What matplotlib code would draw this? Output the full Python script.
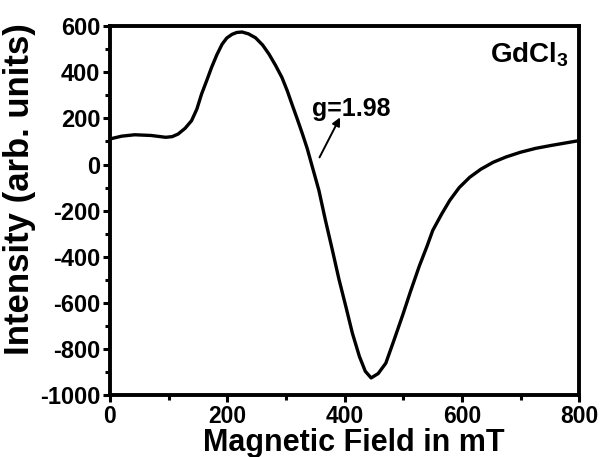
import numpy as np
import matplotlib.pyplot as plt
from matplotlib.ticker import MultipleLocator

plt.rcParams['font.family'] = ['Liberation Sans', 'DejaVu Sans']
plt.rcParams['font.weight'] = 'bold'
plt.rcParams['axes.unicode_minus'] = False
plt.rcParams['mathtext.fontset'] = 'custom'
plt.rcParams['mathtext.bf'] = 'Liberation Sans:bold'
plt.rcParams['mathtext.rm'] = 'Liberation Sans:bold'

# EPR spectrum (field in mT, intensity in arb. units)
field = [0, 20, 42, 70, 95, 106, 116, 128, 139, 148, 156, 165, 173, 182, 191,
         199, 208, 216, 225, 236, 248, 260, 271, 282, 293, 302, 310, 319, 328,
         336, 345, 356, 367, 379, 390, 402, 413, 425, 435, 445, 457, 470, 484,
         499, 512, 527, 540, 550, 565, 579, 595, 613, 632, 653, 675, 699, 725,
         750, 775, 800]
intensity = [111, 123, 129, 126, 118, 121, 132, 157, 190, 240, 305, 365, 420, 475, 521,
             548, 564, 572, 574, 566, 549, 518, 478, 430, 377, 320, 262, 198, 132,
             70, -12, -112, -240, -371, -495, -616, -730, -831, -895, -924, -905, -860, -760,
             -650, -550, -440, -355, -285, -215, -155, -100, -55, -20, 10, 33, 53, 70,
             82, 93, 104]

xticks = [0, 200, 400, 600, 800]
yticks = [600, 400, 200, 0, -200, -400, -600, -800, -1000]

fig = plt.figure(figsize=(6.03, 4.57), dpi=100)
ax = fig.add_axes([0.1824, 0.1346, 0.7786, 0.8085])
ax.plot(field, intensity, color='black', lw=2.4, solid_joinstyle='round')

ax.set_xlim(0, 800)
ax.set_ylim(-1000, 600)
ax.set_xticks(xticks)
ax.set_yticks(yticks)
ax.xaxis.set_minor_locator(MultipleLocator(100))
ax.yaxis.set_minor_locator(MultipleLocator(100))
ax.tick_params(which='major', direction='out', length=5, width=2.2, labelsize=17)
ax.tick_params(axis='x', which='major', pad=2, labelsize=16.5)
ax.tick_params(axis='y', which='major', pad=2)
ax.tick_params(which='minor', direction='out', length=3.5, width=2.2)
for s in ax.spines.values():
    s.set_linewidth(2.8)

ax.set_xlabel('Magnetic Field in mT', fontsize=22, fontweight='bold', va='top')
ax.xaxis.set_label_coords(0.52, -0.087)
ax.set_ylabel('Intensity (arb. units)', fontsize=25, fontweight='bold')
ax.yaxis.set_label_coords(-0.158, 0.56)

ax.text(781, 540, r'GdCl$_\mathbf{3}$', ha='right', va='top', fontsize=20, fontweight='bold')
ax.text(344, 211, 'g=1.98', ha='left', va='baseline', fontsize=18, fontweight='bold')
ax.annotate('', xy=(392, 204), xytext=(357, 31),
            arrowprops=dict(arrowstyle='-|>', color='black', lw=1.4, mutation_scale=12,
                            shrinkA=0, shrinkB=0))

fig.savefig('out.png', dpi=100)
